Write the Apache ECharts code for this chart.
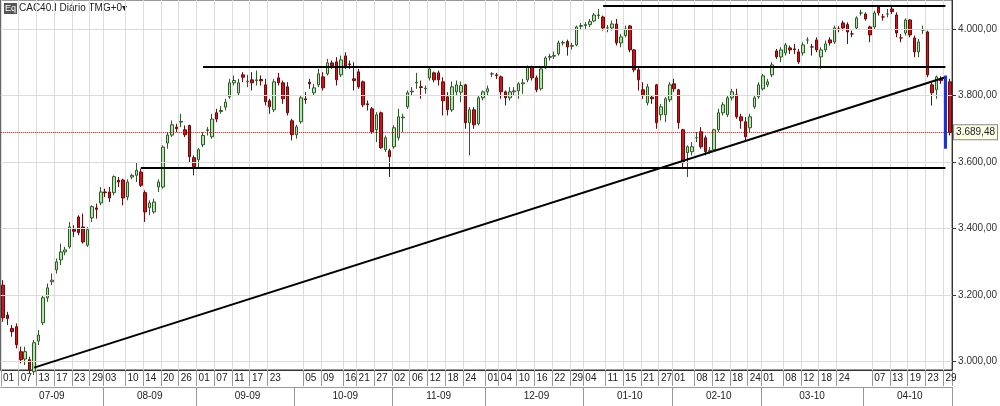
<!DOCTYPE html>
<html><head><meta charset="utf-8">
<script src="https://cdn.jsdelivr.net/npm/echarts@6/dist/echarts.min.js"></script>
<style>html,body{margin:0;padding:0;background:#fff}#c{width:1000px;height:406px}</style>
</head><body><div id="c"></div>
<script>
// [open, close, low, high]
const jul09=[[3230,3132,3120,3245],[3140,3130,3110,3150],[3100,3090,3075,3110],[3105,3051,3040,3115],[3030,3006,2995,3045],[3008,3030,2990,3045],[3006,2976,2965,3015],[2970,3057,2960,3065],[3062,3080,3050,3095],[3117,3192,3110,3200],[3192,3222,3180,3235],[3240,3245,3230,3265],[3276,3300,3265,3310],[3306,3330,3290,3355],[3330,3336,3320,3345],[3345,3405,3340,3420],[3398,3392,3375,3410],[3435,3388,3380,3440],[3405,3360,3355,3445],[3350,3397,3345,3405],[3432,3466,3420,3470],[3462,3458,3430,3475],[3477,3510,3470,3525]];
const aug09=[[3510,3508,3495,3520],[3510,3492,3480,3525],[3508,3556,3500,3560],[3545,3540,3525,3555],[3546,3492,3470,3550],[3495,3540,3485,3548],[3555,3560,3548,3565],[3560,3575,3540,3600],[3570,3530,3525,3580],[3508,3450,3420,3515],[3463,3477,3440,3485],[3450,3480,3445,3490],[3525,3540,3510,3548],[3525,3645,3520,3650],[3657,3681,3640,3690],[3681,3712,3675,3725],[3705,3700,3690,3715],[3720,3722,3705,3745],[3697,3682,3675,3710],[3710,3616,3600,3712],[3613,3586,3560,3620]];
const sep09=[[3607,3637,3580,3642],[3652,3680,3645,3690],[3695,3697,3680,3705],[3676,3729,3670,3745],[3748,3729,3720,3760],[3752,3755,3745,3768],[3765,3780,3755,3790],[3796,3838,3790,3850],[3838,3845,3830,3860],[3808,3838,3800,3850],[3862,3855,3840,3870],[3841,3843,3825,3862],[3847,3838,3815,3870],[3845,3847,3830,3875],[3848,3844,3830,3860],[3832,3781,3770,3850],[3784,3766,3745,3790],[3757,3841,3750,3850],[3853,3838,3830,3868],[3838,3790,3775,3845],[3826,3748,3740,3840],[3724,3682,3665,3730]];
const oct09=[[3682,3706,3670,3712],[3721,3793,3715,3800],[3790,3787,3775,3810],[3840,3835,3820,3850],[3808,3823,3800,3835],[3832,3865,3825,3880],[3856,3823,3815,3870],[3865,3898,3860,3910],[3898,3890,3880,3905],[3901,3847,3830,3915],[3862,3907,3855,3920],[3919,3886,3880,3930],[3895,3893,3880,3905],[3850,3845,3815,3900],[3871,3826,3820,3880],[3841,3772,3765,3845],[3775,3772,3755,3785],[3760,3691,3685,3765],[3697,3742,3660,3750],[3748,3643,3640,3752],[3637,3673,3630,3680],[3634,3616,3555,3640]];
const nov09=[[3646,3703,3640,3710],[3673,3736,3665,3760],[3733,3735,3690,3745],[3766,3808,3760,3815],[3811,3813,3800,3825],[3838,3840,3820,3868],[3826,3824,3790,3845],[3820,3822,3805,3830],[3853,3880,3845,3885],[3868,3847,3840,3872],[3868,3847,3830,3875],[3841,3784,3740,3855],[3796,3757,3740,3810],[3757,3826,3750,3842],[3811,3832,3800,3845],[3810,3830,3780,3842],[3832,3718,3700,3835],[3718,3757,3620,3765],[3757,3712,3700,3765],[3715,3793,3710,3800],[3793,3811,3785,3815]];
const dec09=[[3811,3820,3800,3830],[3865,3865,3855,3870],[3862,3860,3850,3868],[3856,3811,3790,3860],[3811,3793,3770,3815],[3793,3811,3785,3825],[3811,3814,3800,3825],[3814,3835,3790,3840],[3835,3838,3805,3850],[3847,3886,3840,3890],[3886,3853,3845,3890],[3853,3817,3810,3860],[3820,3880,3815,3885],[3883,3913,3880,3918],[3915,3917,3905,3925],[3918,3920,3910,3932],[3925,3958,3920,3965],[3958,3959,3950,3965],[3962,3946,3920,3968],[3948,3950,3938,3958],[3952,4006,3948,4010],[4008,4010,4000,4018]];
const jan10=[[4010,4013,4000,4020],[4013,4022,4005,4030],[4024,4042,4020,4048],[4040,4042,4030,4060],[4036,4003,3995,4040],[4003,4003,3990,4012],[4003,4015,3995,4025],[4015,3958,3950,4030],[3958,3976,3945,3985],[3980,4000,3975,4010],[4009,3937,3930,4012],[3937,3877,3870,3940],[3877,3847,3815,3885],[3817,3802,3790,3840],[3778,3826,3770,3835],[3795,3790,3775,3800],[3832,3718,3700,3835],[3742,3766,3725,3775],[3742,3790,3720,3795],[3787,3832,3780,3840]];
const feb10=[[3835,3820,3810,3850],[3817,3718,3700,3820],[3697,3598,3585,3700],[3628,3646,3555,3650],[3631,3646,3620,3660],[3673,3673,3660,3690],[3691,3646,3640,3705],[3673,3631,3620,3680],[3631,3635,3625,3645],[3637,3697,3630,3700],[3697,3748,3690,3760],[3748,3772,3740,3780],[3742,3793,3735,3800],[3793,3811,3785,3820],[3802,3736,3730,3820],[3736,3724,3700,3745],[3721,3676,3660,3735],[3703,3736,3690,3745],[3766,3793,3760,3800],[3796,3832,3790,3840]];
const mar10=[[3820,3859,3815,3865],[3832,3841,3825,3850],[3862,3892,3855,3900],[3934,3916,3910,3940],[3916,3937,3900,3945],[3928,3952,3920,3958],[3943,3937,3925,3950],[3940,3938,3925,3955],[3931,3901,3895,3940],[3928,3952,3920,3960],[3967,3967,3955,3975],[3946,3946,3920,3955],[3967,3937,3930,3975],[3916,3937,3880,3945],[3937,3955,3930,3965],[3967,3958,3950,3975],[3961,4003,3955,4010],[4000,4000,3990,4008],[4018,4003,3995,4025],[4013,3991,3955,4020],[3985,3985,3975,3995],[4003,4033,3998,4038],[4048,4048,4040,4058]];
const apr10=[[4045,4030,4025,4050],[4006,3982,3960,4010],[4006,4048,4000,4055],[4066,4048,4040,4070],[4036,4036,4025,4045],[4045,4045,4035,4060],[4060,4052,4045,4068],[4042,3988,3975,4050],[3973,3973,3960,3985],[3988,4027,3980,4032],[4027,3982,3975,4030],[3973,3931,3915,3980],[3931,3961,3915,3970],[3997,3997,3985,4010],[3991,3862,3855,3995],[3832,3808,3770,3840],[3817,3856,3790,3860],[3850,3845,3835,3858],[3835,3835,3800,3840],[3841,3689,3680,3850]];
const dayTicks={0:'01',4:'07',8:'13',12:'17',16:'23',20:'29',23:'03',28:'10',32:'14',36:'20',40:'26',44:'01',48:'07',52:'11',56:'17',60:'23',68:'05',72:'09',77:'16',80:'21',84:'27',88:'02',92:'06',96:'12',100:'18',104:'24',109:'01',112:'04',116:'10',120:'16',124:'22',128:'29',131:'04',136:'11',140:'15',144:'21',148:'27',151:'01',156:'08',160:'12',164:'18',168:'24',171:'01',176:'08',180:'12',184:'18',188:'24',196:'07',200:'13',204:'19',208:'23',212:'29'};
const monthLabels={11:'07-09',33:'08-09',55:'09-09',77:'10-09',98:'11-09',120:'12-09',141:'01-10',161:'02-10',182:'03-10',204:'04-10'};
const monthStarts=[23,44,66,88,109,131,151,171,194];
const yTicks=[3000,3200,3400,3600,3800,4000];
const lastPrice=3689.48;
const resistTop=4070, resistMid=3885, support=3583;
const trend=[[7,2982],[212,3855]];

const ohlc=[].concat(jul09,aug09,sep09,oct09,nov09,dec09,jan10,feb10,mar10,apr10);
const data=ohlc.map(d=>[d[0],d[1],d[2],d[3]]);
const cats=ohlc.map((d,i)=>String(i));
const hl=(a,b,v)=>[{coord:[String(a),v]},{coord:[String(b),v]}];
const chart=echarts.init(document.getElementById('c'));
chart.setOption({
  animation:false,
  grid:{left:0,right:42,top:0,bottom:36,show:true,borderColor:'#333',borderWidth:1},
  xAxis:[{type:'category',data:cats,boundaryGap:true,
    axisLine:{lineStyle:{color:'#333'}},
    axisTick:{show:true,length:16,interval:(i)=>dayTicks[i]!==undefined,lineStyle:{color:'#999'}},
    axisLabel:{interval:(i)=>dayTicks[i]!==undefined,formatter:(v)=>dayTicks[v]||'',fontSize:10,color:'#222',fontFamily:'Liberation Sans',margin:3,align:'left'},
    splitLine:{show:true,interval:(i)=>dayTicks[i]!==undefined,lineStyle:{color:'#dcdcdc'}}},
   {type:'category',data:cats,position:'bottom',offset:17,boundaryGap:true,
    axisLine:{lineStyle:{color:'#999'}},
    axisTick:{show:true,length:19,interval:(i)=>monthStarts.includes(i),lineStyle:{color:'#999'}},
    axisLabel:{interval:(i)=>monthLabels[i]!==undefined,formatter:(v)=>monthLabels[v]||'',fontSize:10,color:'#222',fontFamily:'Liberation Sans',margin:4}}],
  yAxis:{type:'value',position:'right',min:2975,max:4087,scale:true,
    axisLine:{show:true,lineStyle:{color:'#333'}},
    axisTick:{show:true,customValues:yTicks,length:4},
    axisLabel:{customValues:yTicks,formatter:(v)=>v.toLocaleString('de-DE',{minimumFractionDigits:2}),fontSize:10,color:'#333',fontFamily:'Liberation Sans',margin:6},
    splitLine:{show:false}},
  series:[
   {type:'candlestick',data:data,barWidth:3,
    itemStyle:{color:'#b4e6ac',color0:'#c8161d',borderColor:'#2e5a2a',borderColor0:'#6a0a0a',borderWidth:1},
    markLine:{silent:true,symbol:'none',data:[
      {yAxis:lastPrice,lineStyle:{color:'#e00000',type:'dotted',width:1},
       label:{show:true,position:'end',formatter:'3.689,48',fontSize:10,color:'#222',backgroundColor:'#ffffe6',borderColor:'#888',borderWidth:1,padding:[2,2],distance:2}},
      ...yTicks.map(v=>({yAxis:v,lineStyle:{color:'#dcdcdc',type:'solid',width:1},label:{show:false}}))
    ]}},
   {type:'line',data:[],markLine:{silent:true,symbol:'none',label:{show:false},lineStyle:{color:'#000',type:'solid',width:2},data:[
      hl(135,212,resistTop),hl(45,212,resistMid),hl(31,212,support),
      [{coord:[String(trend[0][0]),trend[0][1]]},{coord:[String(trend[1][0]),trend[1][1]]}],
      [{coord:['212',3860],lineStyle:{color:'#2233cc',width:3}},{coord:['212',3640]}]
    ]}}
  ],
  graphic:[
    {type:'rect',left:4,top:3,shape:{width:13,height:11},style:{fill:'#555'}},
    {type:'text',left:5,top:4,style:{text:'Eq',fill:'#fff',fontSize:9,fontFamily:'Liberation Sans'}},
    {type:'text',left:19,top:3,style:{text:'CAC40.I Diário TMG+0▾',fill:'#222',fontSize:10,fontFamily:'Liberation Sans'}}
  ]
});
</script></body></html>
